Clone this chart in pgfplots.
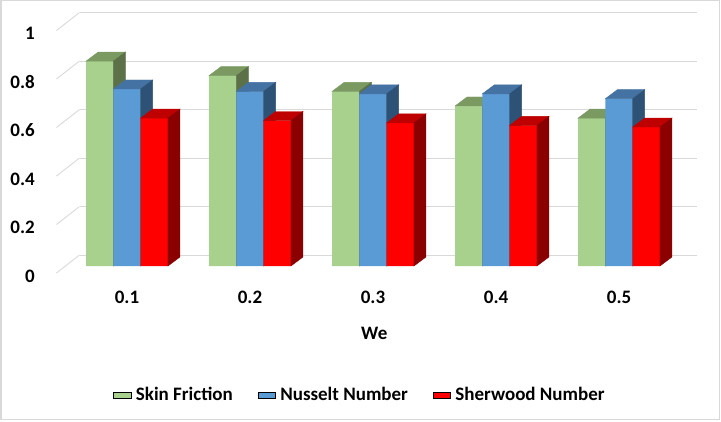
\documentclass[border=0pt]{standalone}
\usepackage{pgfplots}
\pgfplotsset{compat=1.18}
\usepackage{fontspec}
\setmainfont{Carlito}
\definecolor{gF}{HTML}{A9D18E}\definecolor{gT}{HTML}{7A9A62}\definecolor{gS}{HTML}{5C7148}
\definecolor{bF}{HTML}{5B9BD5}\definecolor{bT}{HTML}{4472A2}\definecolor{bS}{HTML}{2E5276}
\definecolor{rF}{HTML}{FF0000}\definecolor{rT}{HTML}{BE0000}\definecolor{rS}{HTML}{8B0000}
\definecolor{gridc}{HTML}{D9D9D9}
\pgfdeclareplotmark{empty}{}
\newdimen\hdim
\pgfplotsset{
  faces/.style n args={3}{
    only marks, mark=empty, scatter, forget plot,
    visualization depends on={rawy \as \myy},
    scatter/@pre marker code/.code={%
      \hdim=242.5pt \hdim=\myy\hdim
      \fill[#2] ({#1-13.65pt},0pt) -- ({#1+13.65pt},0pt) -- ({#1+25.65pt},9pt) -- ({#1-1.65pt},9pt) -- cycle;
      \fill[#3] ({#1+13.65pt},0pt) -- ({#1+25.65pt},9pt) -- ({#1+25.65pt},{9pt-\hdim}) -- ({#1+13.65pt},{-\hdim}) -- cycle;
    },
    scatter/@post marker code/.code={},
  },
  frontbar/.style n args={2}{ybar, bar width=27.3pt, bar shift=#1, fill=#2, draw=none, area legend},
}
\begin{document}
\begin{tikzpicture}[x=1pt,y=1pt]
\path[use as bounding box] (0,0) rectangle (721,421);
\draw[gridc, line width=1.2pt] (1,1.5) rectangle (719.3,420.5);
\begin{axis}[
  at={(65.5pt,155pt)}, anchor=south west,
  scale only axis, width=617.5pt, height=242.5pt,
  xmin=-0.5, xmax=4.52, ymin=0, ymax=1,
  clip=false, clip mode=individual,
  axis line style={draw=none},
  major tick length=0pt,
  xtick={0,1,2,3,4}, xticklabels={0.1,0.2,0.3,0.4,0.5},
  ytick={0,0.2,0.4,0.6,0.8,1}, yticklabels={0,0.2,0.4,0.6,0.8,1},
  xtick pos=bottom, ytick pos=left,
  ymajorgrids, major grid style={gridc, line width=0.9pt, xshift=14pt, yshift=11pt},
  font=\fontsize{19}{22}\selectfont\bfseries,
  ticklabel style={font=\fontsize{19}{22}\selectfont\bfseries, inner sep=0pt},
  yticklabel style={anchor=east, xshift=-30.5pt, yshift=-10pt},
  xticklabel style={anchor=north, yshift=-25pt},
  xlabel={We},
  xlabel style={at={(axis description cs:0.5,0)}, anchor=center, yshift=-67pt, font=\fontsize{19}{22}\selectfont\bfseries},
  legend columns=3,
  legend style={at={(axis description cs:0.477,0)}, anchor=center, yshift=-129pt, draw=none, fill=none,
    font=\fontsize{19}{22}\selectfont\bfseries,
    /tikz/every odd column/.append style={column sep=3pt},
    /tikz/every even column/.append style={column sep=23pt}},
  legend image code/.code={\fill[#1] (0pt,-6.5pt) rectangle (13pt,6.5pt);},
]
\pgfplotsinvokeforeach{0,0.2,0.4,0.6,0.8,1}{
  \draw[gridc, line width=0.9pt] ([xshift=-9pt,yshift=-7pt]axis cs:-0.5,#1) -- ([xshift=14pt,yshift=11pt]axis cs:-0.5,#1);
}
% Skin Friction
\addplot[frontbar={-27.3pt}{gF}] coordinates {(0,0.845) (1,0.785) (2,0.72) (3,0.66) (4,0.61)};
\addlegendentry{Skin Friction}
\addplot[faces={-27.3pt}{gT}{gS}] coordinates {(0,0.845) (1,0.785) (2,0.72) (3,0.66) (4,0.61)};
% Nusselt
\addplot[frontbar={0pt}{bF}] coordinates {(0,0.73) (1,0.72) (2,0.71) (3,0.71) (4,0.69)};
\addlegendentry{Nusselt Number}
\addplot[faces={0pt}{bT}{bS}] coordinates {(0,0.73) (1,0.72) (2,0.71) (3,0.71) (4,0.69)};
% Sherwood
\addplot[frontbar={27.3pt}{rF}] coordinates {(0,0.61) (1,0.60) (2,0.59) (3,0.58) (4,0.573)};
\addlegendentry{Sherwood Number}
\addplot[faces={27.3pt}{rT}{rS}] coordinates {(0,0.61) (1,0.60) (2,0.59) (3,0.58) (4,0.573)};
\end{axis}
\end{tikzpicture}
\end{document}
